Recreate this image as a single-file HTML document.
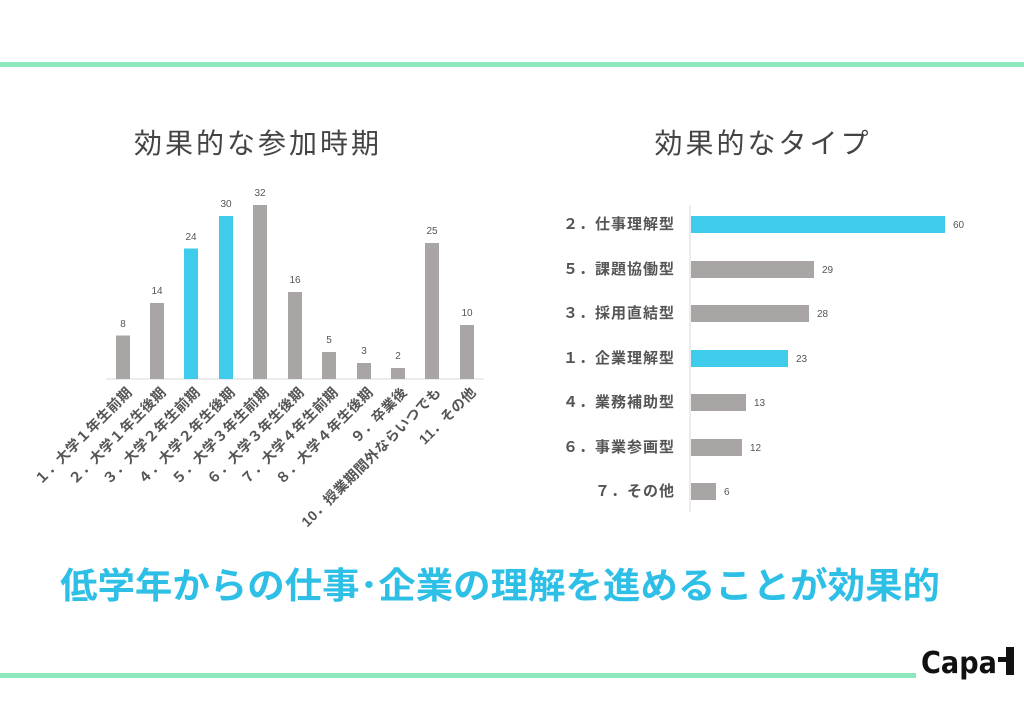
<!DOCTYPE html>
<html><head><meta charset="utf-8"><style>
body{margin:0;width:1024px;height:709px;background:#fff;overflow:hidden;font-family:"Liberation Sans","Noto Sans CJK JP",sans-serif}
</style></head><body>
<svg width="1024" height="709" xmlns="http://www.w3.org/2000/svg" font-family="Liberation Sans, Noto Sans CJK JP, sans-serif">
<rect x="0" y="62" width="1024" height="5" fill="#8de8bd"/>
<rect x="0" y="673" width="916" height="5" fill="#8de8bd"/>
<text x="258" y="153" font-size="28" fill="#444" text-anchor="middle" letter-spacing="3">効果的な参加時期</text>
<text x="763" y="153" font-size="28" fill="#444" text-anchor="middle" letter-spacing="3">効果的なタイプ</text>
<line x1="106" y1="379" x2="484" y2="379" stroke="#d9d9d9" stroke-width="1"/>
<g font-size="10" fill="#555" text-anchor="middle">
<rect x="116" y="335.5" width="14" height="43.5" fill="#aaa5a5"/><text x="123" y="327">8</text>
<rect x="150" y="303" width="14" height="76" fill="#aaa5a5"/><text x="157" y="294">14</text>
<rect x="184" y="248.5" width="14" height="130.5" fill="#3fcbeb"/><text x="191" y="240">24</text>
<rect x="219" y="216" width="14" height="163" fill="#3fcbeb"/><text x="226" y="207">30</text>
<rect x="253" y="205" width="14" height="174" fill="#aaa5a5"/><text x="260" y="196">32</text>
<rect x="288" y="292" width="14" height="87" fill="#aaa5a5"/><text x="295" y="283">16</text>
<rect x="322" y="352" width="14" height="27" fill="#aaa5a5"/><text x="329" y="343">5</text>
<rect x="357" y="363" width="14" height="16" fill="#aaa5a5"/><text x="364" y="354">3</text>
<rect x="391" y="368" width="14" height="11" fill="#aaa5a5"/><text x="398" y="359">2</text>
<rect x="425" y="243" width="14" height="136" fill="#aaa5a5"/><text x="432" y="234">25</text>
<rect x="460" y="325" width="14" height="54" fill="#aaa5a5"/><text x="467" y="316">10</text>
</g>
<g font-size="14" fill="#555" font-weight="bold" text-anchor="end" letter-spacing="0.5">
<text transform="translate(133,393) rotate(-45)">１．大学１年生前期</text>
<text transform="translate(167,393) rotate(-45)">２．大学１年生後期</text>
<text transform="translate(201,393) rotate(-45)">３．大学２年生前期</text>
<text transform="translate(236,393) rotate(-45)">４．大学２年生後期</text>
<text transform="translate(270,393) rotate(-45)">５．大学３年生前期</text>
<text transform="translate(305,393) rotate(-45)">６．大学３年生後期</text>
<text transform="translate(339,393) rotate(-45)">７．大学４年生前期</text>
<text transform="translate(374,393) rotate(-45)">８．大学４年生後期</text>
<text transform="translate(408,393) rotate(-45)">９．卒業後</text>
<text transform="translate(442,393) rotate(-45)">10．授業期間外ならいつでも</text>
<text transform="translate(477,393) rotate(-45)">11．その他</text>
</g>
<line x1="690" y1="205" x2="690" y2="512" stroke="#d9d9d9"/>
<g font-size="10" fill="#555">
<rect x="691" y="216" width="254" height="17" fill="#3fcbeb"/><text x="953" y="228">60</text>
<rect x="691" y="261" width="123" height="17" fill="#aaa5a5"/><text x="822" y="273">29</text>
<rect x="691" y="305" width="118" height="17" fill="#aaa5a5"/><text x="817" y="317">28</text>
<rect x="691" y="350" width="97" height="17" fill="#3fcbeb"/><text x="796" y="362">23</text>
<rect x="691" y="394" width="55" height="17" fill="#aaa5a5"/><text x="754" y="406">13</text>
<rect x="691" y="439" width="51" height="17" fill="#aaa5a5"/><text x="750" y="451">12</text>
<rect x="691" y="483" width="25" height="17" fill="#aaa5a5"/><text x="724" y="495">6</text>
</g>
<g font-size="15" fill="#555" font-weight="bold" text-anchor="end" letter-spacing="1">
<text x="675" y="229">２．仕事理解型</text>
<text x="675" y="274">５．課題協働型</text>
<text x="675" y="318">３．採用直結型</text>
<text x="675" y="363">１．企業理解型</text>
<text x="675" y="407">４．業務補助型</text>
<text x="675" y="452">６．事業参画型</text>
<text x="675" y="496">７．その他</text>
</g>
<text x="500" y="598" font-size="36" font-weight="bold" fill="#2ebfe6" text-anchor="middle" textLength="880" lengthAdjust="spacingAndGlyphs">低学年からの仕事･企業の理解を進めることが効果的</text>
<text x="921" y="673" font-size="30" font-weight="bold" fill="#111" font-family="DejaVu Sans, sans-serif" textLength="76" lengthAdjust="spacingAndGlyphs">Capa</text>
<rect x="1006" y="647" width="8" height="28" fill="#111"/>
<rect x="998" y="657" width="8" height="5" fill="#111"/>
</svg>
</body></html>
